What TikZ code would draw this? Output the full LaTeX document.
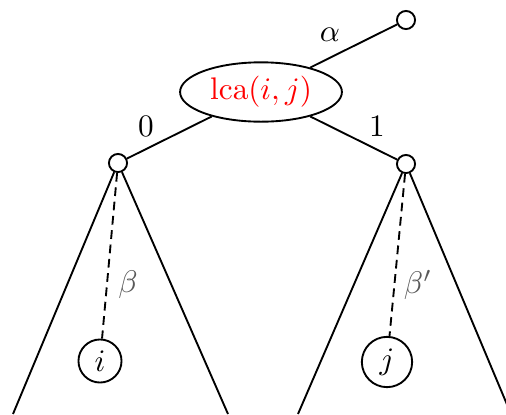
\documentclass[tikz,border=0pt]{standalone}
\usepackage{amsmath,amssymb}
\usetikzlibrary{shapes.geometric}

\begin{document}
\begin{tikzpicture}[x=0.32pt,y=-0.32pt,semithick,
    dot/.style={circle,draw,fill=white,inner sep=0pt,minimum size=5.8pt},
    leaf/.style={circle,draw,fill=white,inner sep=2.3pt},
    anc/.style={ellipse,draw,fill=white,inner sep=1pt,
                minimum width=51.8pt,minimum height=19pt,text=red},
    path/.style={dash pattern=on 2.8pt off 1.8pt},
    lbl/.style={inner sep=1pt},
    wlbl/.style={inner sep=1pt,text=black!65}]

  \useasboundingbox (0,0) rectangle (506,414);

  \node[dot] (top) at (406,20)  {};
  \node[anc] (lca) at (261,92)  {$\mathrm{lca}(i,j)$};
  \node[dot] (lv)  at (118,163) {};
  \node[dot] (rv)  at (406,164) {};
  \node[leaf] (i)  at (100,361) {$i$};
  \node[leaf] (j)  at (387,362) {$j$};

  \coordinate (la) at (13,414);
  \coordinate (lb) at (228,414);
  \coordinate (ra) at (298,414);
  \coordinate (rb) at (511,414);

  \draw (lca) -- (top);
  \draw (lca) -- (lv);
  \draw (lca) -- (rv);

  \draw (lv) -- (la);
  \draw (lv) -- (lb);
  \draw (rv) -- (ra);
  \draw (rv) -- (rb);

  \draw[path] (lv) -- (i);
  \draw[path] (rv) -- (j);

  \node[lbl]  (alpha) at (330,35)  {$\alpha$};
  \node[lbl]  (zero)  at (146,126) {$0$};
  \node[lbl]  (one)   at (377,126) {$1$};
  \node[wlbl] (beta)  at (128,285) {$\beta$};
  \node[wlbl] (betap) at (418,285) {$\beta'$};
\end{tikzpicture}
\end{document}
